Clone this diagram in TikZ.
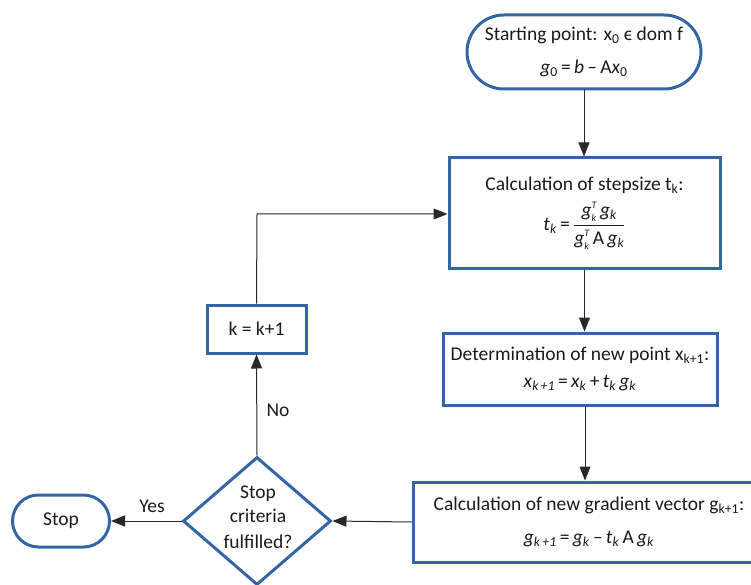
\documentclass[tikz,border=0pt]{standalone}
\usepackage{fontspec}
\setmainfont{Carlito}
\usetikzlibrary{shapes.geometric,arrows.meta}
\definecolor{flowblue}{RGB}{52,101,164}
\definecolor{ink}{RGB}{26,26,26}
\definecolor{wire}{RGB}{40,40,40}
% italic variables and their indices
\newcommand\vr[1]{\textit{#1}}
\newcommand\sbs[1]{\textsubscript{\textit{#1}}}
\newcommand\sbu[1]{\textsubscript{#1}}
\newcommand\ixs[1]{\mbox{\fontsize{10}{10}\selectfont\itshape #1}}
\newcommand\gkT{$\mbox{\itshape g}^{\ixs{T}}_{\ixs{k}}$}
\begin{document}
\begin{tikzpicture}[x=1pt,y=-1pt,
  every node/.style={font=\fontsize{19.5}{23.5}\selectfont, text=ink},
  procbox/.style={draw=flowblue, line width=3pt, rectangle, inner sep=0pt, align=center},
  termbox/.style={procbox, rounded corners=#1},
  decbox/.style={draw=flowblue, line width=3pt, diamond, inner sep=0pt},
  flow/.style={draw=wire, line width=1pt, -{Triangle[length=14pt,width=11pt]}},
  lbl/.style={inner sep=0pt}
]
\useasboundingbox (0,0) rectangle (751,585);

% process chain
\node[termbox=37pt, minimum width=234pt, minimum height=74pt] (start) at (584,52)
  {Starting point: x\sbu{0} ϵ dom f\\[10pt]\vr{g}\sbu{0}\,=\,\vr{b}\,–\,A\vr{x}\sbu{0}};
\node[procbox, minimum width=271pt, minimum height=110pt] (step) at (584.5,213)
  {Calculation of stepsize t\sbu{k}:\\[8pt]
   \vr{t}\sbs{k}\,=\,$\displaystyle\frac{\mbox{\gkT\,\vr{g}\sbs{k}}}{\mbox{\gkT\,A\,\vr{g}\sbs{k}}}$};
\node[procbox, minimum width=274pt, minimum height=72pt] (newx) at (580,369)
  {Determination of new point x\sbu{k+1}:\\[4pt]
   \vr{x}\sbs{k\,+1}\,=\,\vr{x}\sbs{k}\,+\,\vr{t}\sbs{k}\,\vr{g}\sbs{k}};
\node[procbox, minimum width=344pt, minimum height=80pt] (newg) at (585,522)
  {\hspace*{8pt}Calculation of new gradient vector g\sbu{k+1}:\\[10pt]
   \hspace*{8pt}\vr{g}\sbs{k\,+1}\,=\,\vr{g}\sbs{k}\,–\,\vr{t}\sbs{k}\,A\,\vr{g}\sbs{k}};

% decision and loop
\node[decbox, minimum width=148pt, minimum height=128pt] (crit) at (257,521) {};
\node[lbl, align=center] (crittext) at (258,517) {Stop\\[1pt]criteria\\[2pt]fulfilled?};
\node[procbox, minimum width=99pt, minimum height=48pt] (incr) at (256.5,329) {k = k+1};
\node[termbox=26pt, minimum width=97pt, minimum height=52pt] (stop) at (61,521) {Stop};
\coordinate (corner) at (257,214);

% connectors
\draw[flow] (start.south) -- (start.south |- step.north);
\draw[flow] (step.south) -- (step.south |- newx.north);
\draw[flow] (newx.south -| newg.north) -- (newg.north);
\draw[flow] (newg.west) -- (crit.east);
\draw[flow] (crit.west) -- (stop.east);
\draw[flow] (crit.north) -- (incr.south);
\draw[flow] (incr.north) -- (corner) -- (corner -| step.west);

% branch labels
\node[lbl] (yes) at (152,506) {Yes};
\node[lbl] (no) at (278,410) {No};
\end{tikzpicture}
\end{document}
